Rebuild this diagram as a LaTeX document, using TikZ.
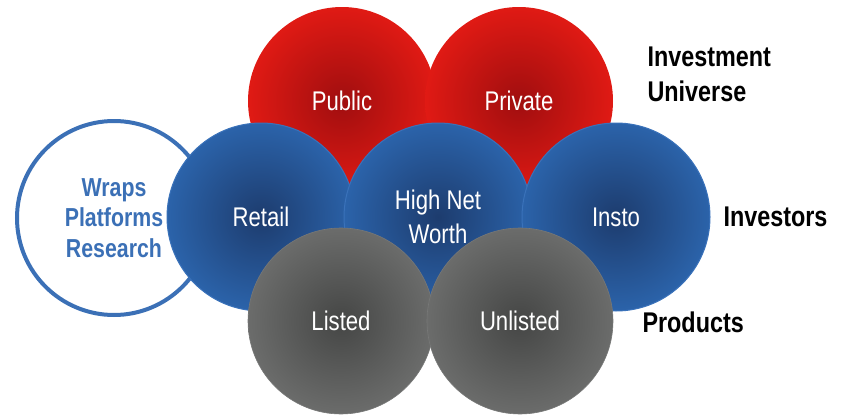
\documentclass[tikz,border=0pt]{standalone}
\usepackage{fontspec}
\setmainfont{Liberation Sans}[FakeStretch=0.82]
\usetikzlibrary{positioning}

\definecolor{redout}{HTML}{E01A14}
\definecolor{redin}{HTML}{A00E0F}
\definecolor{blueout}{HTML}{2B63AA}
\definecolor{bluein}{HTML}{1D3C6E}
\definecolor{blueedge}{HTML}{3A72BA}
\definecolor{greyout}{HTML}{6B6C6B}
\definecolor{greyin}{HTML}{454645}
\definecolor{greyedge}{HTML}{777877}
\definecolor{wrapblue}{HTML}{3B70B6}

\tikzset{
  ball/.style={circle, minimum size=188pt, inner sep=0pt, text=white,
    font=\fontsize{27}{34}\selectfont, align=center, shading=radial},
  redball/.style={ball, inner color=redin, outer color=redout},
  blueball/.style={ball, inner color=bluein, outer color=blueout, draw=blueedge, line width=1pt},
  greyball/.style={ball, minimum size=186pt, inner color=greyin, outer color=greyout, draw=greyedge, line width=0.6pt},
  ringball/.style={circle, minimum size=194pt, inner sep=0pt, draw=wrapblue, line width=4pt,
    fill=white, text=wrapblue, font=\bfseries\fontsize{26}{30.5}\selectfont, align=center},
  sidelabel/.style={anchor=west, align=left, text=black, font=\bfseries\fontsize{28.5}{35}\selectfont}
}

\begin{document}
\begin{tikzpicture}[x=1pt, y=-1pt, node distance=177pt]
  \useasboundingbox (0,0) rectangle (844,415);

  % outer ring
  \node[ringball] (wraps) at (114,218) {Wraps\\Platforms\\Research};

  % investment universe
  \node[redball] (public) at (342,101) {Public};
  \node[redball, right of=public] (private) {Private};

  % investors
  \node[blueball] (retail) at (261,217) {Retail};
  \node[blueball, right of=retail] (hnw) {High Net\\Worth};
  \node[blueball, right of=hnw, node distance=178pt] (insto) {Insto};

  % products
  \node[greyball] (listed) at (341,321) {Listed};
  \node[greyball, right of=listed, node distance=179pt] (unlisted) {Unlisted};

  % row labels
  \node[sidelabel] (universelbl) at (644,74) {Investment\\Universe};
  \node[sidelabel] (investorslbl) at (720,217) {Investors};
  \node[sidelabel] (productslbl) at (639,322) {Products};
\end{tikzpicture}
\end{document}
